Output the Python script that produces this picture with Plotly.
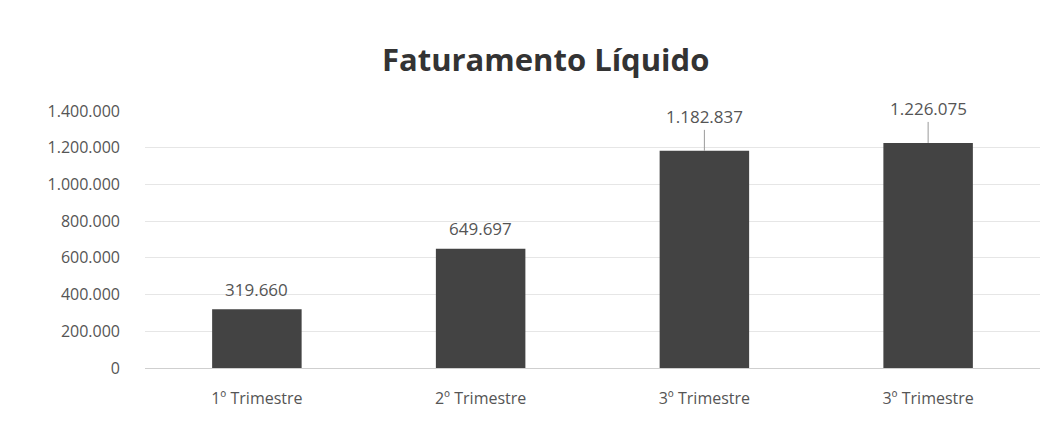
import plotly.graph_objects as go

trimestres = ["1º Trimestre", "2º Trimestre", "3º Trimestre", "3º Trimestre"]
faturamento = [319660, 649697, 1182837, 1226075]
posicoes = list(range(len(trimestres)))


def fmt_br(v):
    return f"{v:,}".replace(",", ".")


fig = go.Figure(go.Bar(
    x=posicoes, y=faturamento,
    marker=dict(color="#434343", line=dict(width=0)),
    width=0.4,
))

# rótulos de dados; os dois últimos com linha de chamada
for i, v in enumerate(faturamento):
    leader = v > 1000000
    fig.add_annotation(
        x=i, y=v, text=fmt_br(v), xref="x", yref="y",
        showarrow=leader, arrowhead=0, arrowwidth=1, arrowcolor="#9a9a9a",
        ax=0, ay=-34, yshift=0 if leader else 20,
        font=dict(size=17, color="#555555", family="Open Sans, Arial"),
    )

fig.update_layout(
    width=1044, height=414,
    separators=",.",
    paper_bgcolor="white", plot_bgcolor="white",
    title=dict(text="<b>Faturamento Líquido</b>", x=0.515, xanchor="center",
               y=0.874, yref="container", yanchor="middle",
               font=dict(size=31, color="#333333", family="Open Sans, Arial")),
    margin=dict(l=137, r=12, t=103, b=54),
    showlegend=False,
    xaxis=dict(tickvals=posicoes, ticktext=trimestres, range=[-0.5, 3.5],
               showgrid=False, tickfont=dict(size=16, color="#555555", family="Open Sans, Arial"),
               showline=True, linecolor="#cfcfcf", ticks="", ticklabelstandoff=16,
               automargin=False),
    yaxis=dict(range=[0, 1400000], dtick=200000, tickformat=",d",
               gridcolor="#e6e6e6", zeroline=False, showline=False,
               tickfont=dict(size=16, color="#555555", family="Open Sans, Arial"),
               ticklabelstandoff=24, automargin=False),
)

fig.write_html("out.html")
